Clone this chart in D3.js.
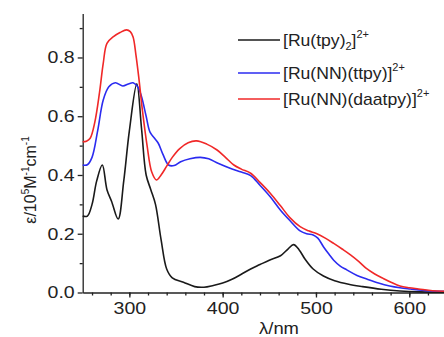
<!DOCTYPE html>
<html>
<head>
<meta charset="utf-8">
<script src="https://cdnjs.cloudflare.com/ajax/libs/d3/7.8.5/d3.min.js"></script>
<style>
  body { margin: 0; background: #fff; }
  svg { display: block; font-family: Arial, "Liberation Sans", sans-serif; }
</style>
</head>
<body>
<div class="visHolder"></div>
<script>
var width = 444,
    height = 337,
    stretch = 1.15; // the original lettering is a bit wider than Arial

// wavelengths (nm) and absorptivity (10^5 M^-1 cm^-1)
var tpyWl = [250, 255, 260, 265, 271, 276, 281, 288, 294, 300, 308, 313, 318, 323, 328, 334, 340, 346, 358, 370, 380, 390, 400, 410, 420, 430, 440, 450, 462, 470, 476, 482, 488, 497, 508, 520, 535, 550, 570, 590, 610, 640];
var tpyVal = [0.26, 0.26, 0.30, 0.38, 0.434, 0.35, 0.31, 0.25, 0.38, 0.55, 0.71, 0.56, 0.40, 0.35, 0.30, 0.18, 0.08, 0.05, 0.035, 0.02, 0.018, 0.024, 0.032, 0.045, 0.062, 0.08, 0.095, 0.11, 0.125, 0.148, 0.163, 0.145, 0.115, 0.08, 0.056, 0.04, 0.028, 0.02, 0.011, 0.005, 0.002, 0.001];

var ttpyWl = [250, 255, 260, 266, 272, 278, 285, 293, 299, 304, 309, 313, 318, 322, 327, 331, 336, 342, 348, 355, 365, 376, 385, 395, 408, 420, 430, 440, 451, 462, 472, 483, 490, 497, 502, 508, 514, 519, 526, 533, 544, 555, 567, 579, 590, 601, 620, 640];
var ttpyVal = [0.434, 0.435, 0.46, 0.55, 0.655, 0.70, 0.714, 0.703, 0.71, 0.714, 0.70, 0.667, 0.60, 0.547, 0.525, 0.508, 0.47, 0.434, 0.432, 0.445, 0.455, 0.46, 0.455, 0.44, 0.423, 0.41, 0.398, 0.365, 0.326, 0.28, 0.245, 0.21, 0.20, 0.196, 0.185, 0.156, 0.13, 0.11, 0.09, 0.077, 0.058, 0.045, 0.032, 0.022, 0.016, 0.012, 0.006, 0.004];

var daatpyWl = [250, 254, 258, 263, 268, 272, 276, 283, 290, 297, 301, 304, 307, 310, 314, 319, 324, 329, 334, 340, 346, 354, 363, 372, 383, 394, 403, 412, 420, 430, 440, 451, 462, 472, 483, 492, 501, 510, 519, 528, 537, 546, 554, 563, 572, 581, 590, 600, 610, 625, 640];
var daatpyVal = [0.513, 0.515, 0.525, 0.58, 0.68, 0.78, 0.848, 0.871, 0.885, 0.894, 0.888, 0.87, 0.81, 0.735, 0.62, 0.50, 0.41, 0.383, 0.40, 0.43, 0.46, 0.49, 0.51, 0.516, 0.505, 0.485, 0.46, 0.434, 0.42, 0.406, 0.375, 0.338, 0.295, 0.255, 0.224, 0.21, 0.20, 0.185, 0.167, 0.148, 0.128, 0.105, 0.082, 0.063, 0.048, 0.034, 0.022, 0.016, 0.012, 0.006, 0.004];

var xTicks = [300, 400, 500, 600];
var yTicks = [0.0, 0.2, 0.4, 0.6, 0.8];

var series = [
  { name: ['[Ru(tpy)', '2', ']', '2+'], wl: tpyWl, val: tpyVal, color: '#1a1a1a' },
  { name: ['[Ru(NN)(ttpy)]', '', '', '2+'], wl: ttpyWl, val: ttpyVal, color: '#2b2bf0' },
  { name: ['[Ru(NN)(daatpy)]', '', '', '2+'], wl: daatpyWl, val: daatpyVal, color: '#f02828' }
];

var svg = d3.select('.visHolder')
  .append('svg')
  .attr('width', width)
  .attr('height', height);

var xScale = d3.scaleLinear()
  .domain([250, 640])
  .range([82.7, 446.6]);

var yScale = d3.scaleLinear()
  .domain([0, 0.95])
  .range([292.5, 13.4]);

// minor ticks first, then the major axis on top
svg.append('g')
  .attr('transform', 'translate(0,292.5)')
  .call(d3.axisBottom(xScale).tickValues(d3.range(260, 641, 20)).tickSize(3).tickFormat(''))
  .call(function(g) { g.select('.domain').remove(); });

svg.append('g')
  .attr('transform', 'translate(82.7,0)')
  .call(d3.axisLeft(yScale).tickValues(d3.range(0.1, 0.95, 0.2)).tickSize(3).tickFormat(''))
  .call(function(g) { g.select('.domain').remove(); });

var xAxis = svg.append('g')
  .attr('id', 'x-axis')
  .attr('transform', 'translate(0,292.5)')
  .call(d3.axisBottom(xScale).tickValues(xTicks).tickSize(5).tickSizeOuter(0).tickPadding(4));

var yAxis = svg.append('g')
  .attr('id', 'y-axis')
  .attr('transform', 'translate(82.7,0)')
  .call(d3.axisLeft(yScale).tickValues(yTicks).tickSize(5).tickSizeOuter(0).tickPadding(2)
    .tickFormat(d3.format('.1f')));

svg.selectAll('.tick line, .domain')
  .attr('stroke', '#222')
  .attr('stroke-width', 1.3);

svg.selectAll('.tick text')
  .attr('font-size', '17px')
  .attr('fill', '#222')
  .attr('font-family', 'Arial, "Liberation Sans", sans-serif')
  .attr('transform', 'scale(' + stretch + ',1)');

var line = d3.line()
  .x(function(d) { return xScale(d[0]); })
  .y(function(d) { return yScale(d[1]); })
  .curve(d3.curveCatmullRom.alpha(0.5));

series.forEach(function(s) {
  var pts = s.wl.map(function(w, i) { return [w, s.val[i]]; });
  svg.append('path')
    .datum(pts)
    .attr('fill', 'none')
    .attr('stroke', s.color)
    .attr('stroke-width', 1.6)
    .attr('d', line);
});

// legend
var legendY = [40, 73, 99];
series.forEach(function(s, i) {
  svg.append('line')
    .attr('x1', 238).attr('x2', 280)
    .attr('y1', legendY[i]).attr('y2', legendY[i])
    .attr('stroke', s.color)
    .attr('stroke-width', 1.6);
  var t = svg.append('text')
    .attr('transform', 'translate(283,' + (legendY[i] + 6) + ') scale(1.1,1)')
    .attr('font-size', '16px')
    .attr('fill', '#222');
  t.append('tspan').text(s.name[0]);
  if (s.name[1]) {
    t.append('tspan').attr('font-size', '10px').attr('dy', 4).text(s.name[1]);
    t.append('tspan').attr('dy', -4).text(s.name[2]);
  }
  t.append('tspan').attr('font-size', '10px').attr('dy', -8).text(s.name[3]);
});

// axis titles
var yLabel = svg.append('text')
  .attr('transform', 'translate(36,180) rotate(-90)')
  .attr('text-anchor', 'middle')
  .attr('font-size', '16px')
  .attr('fill', '#222');
yLabel.append('tspan').text('\u03b5/10');
yLabel.append('tspan').attr('font-size', '10px').attr('dy', -7).text('5');
yLabel.append('tspan').attr('dy', 7).text('M');
yLabel.append('tspan').attr('font-size', '10px').attr('dy', -7).text('-1');
yLabel.append('tspan').attr('dy', 7).text('cm');
yLabel.append('tspan').attr('font-size', '10px').attr('dy', -7).text('-1');

svg.append('text')
  .attr('transform', 'translate(279,334) scale(' + stretch + ',1)')
  .attr('text-anchor', 'middle')
  .attr('font-size', '16px')
  .attr('fill', '#222')
  .text('\u03bb/nm');
</script>
</body>
</html>
